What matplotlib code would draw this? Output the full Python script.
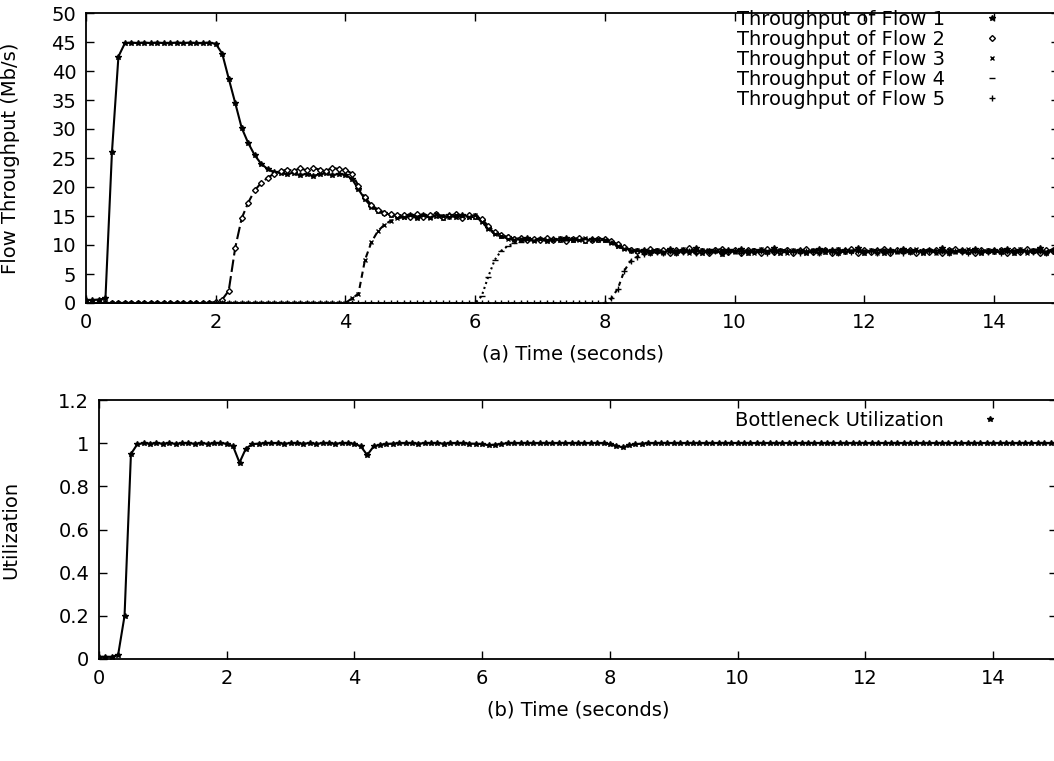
import matplotlib
matplotlib.use("Agg")
import matplotlib.pyplot as plt
from matplotlib.lines import Line2D
from matplotlib.ticker import FuncFormatter

# sample times, one every 0.1 s
time_s = [i / 10 for i in range(151)]

flow1 = [0.5, 0.5, 0.6, 0.8, 26.0, 42.5, 44.8, 44.9, 44.8, 44.9,
         44.8, 44.9, 44.8, 44.8, 44.9, 44.8, 44.9, 44.8, 44.8, 44.9,
         44.7, 43.0, 38.7, 34.5, 30.2, 27.6, 25.5, 24.0, 23.1, 22.6,
         22.4, 22.2, 22.5, 22.0, 22.3, 21.9, 22.2, 22.4, 22.0, 22.3,
         22.1, 21.4, 19.6, 17.9, 16.6, 15.9, 15.5, 15.2, 15.0, 14.8,
         15.1, 14.7, 15.2, 14.9, 15.0, 14.6, 15.1, 14.8, 15.2, 14.9,
         14.8, 14.2, 13.0, 12.1, 11.6, 11.3, 11.1, 10.9, 11.2, 10.8,
         11.0, 10.7, 11.1, 10.9, 11.2, 10.8, 11.0, 10.7, 11.1, 10.9,
         10.8, 10.5, 9.9, 9.4, 9.1, 8.9, 9.2, 8.7, 9.0, 8.8,
         9.3, 8.6, 9.1, 8.9, 9.4, 8.7, 9.0, 9.2, 8.5, 9.1,
         8.9, 9.3, 8.6, 9.0, 9.2, 8.8, 9.4, 8.7, 9.1, 8.9,
         9.2, 8.6, 9.0, 9.3, 8.8, 9.1, 8.7, 9.2, 8.9, 9.4,
         8.7, 9.0, 9.2, 8.6, 9.1, 8.9, 9.3, 8.8, 9.0, 8.7,
         9.2, 8.9, 9.4, 8.6, 9.0, 9.1, 8.8, 9.3, 8.7, 9.0,
         9.1, 8.8, 9.3, 8.6, 9.2, 8.9, 9.0, 9.4, 8.7, 9.1,
         9.0]

flow2 = [0.0] * 20 + [
         0.2, 0.6, 2.1, 9.5, 14.6, 17.3, 19.4, 20.7, 21.6, 22.3,
         22.7, 23.0, 22.8, 23.2, 22.9, 23.3, 23.0, 22.8, 23.3, 23.1,
         23.0, 22.3, 20.2, 18.2, 16.9, 16.1, 15.6, 15.3, 15.1, 15.2,
         14.8, 15.3, 14.9, 15.1, 15.4, 14.8, 15.0, 15.3, 14.7, 15.1,
         15.0, 14.5, 13.3, 12.3, 11.7, 11.4, 11.0, 11.2, 10.8, 11.1,
         10.8, 11.2, 10.9, 11.1, 10.7, 11.0, 11.2, 10.9, 10.8, 11.1,
         11.0, 10.7, 10.1, 9.6, 9.2, 9.0, 8.8, 9.3, 8.9, 9.1,
         8.7, 9.2, 8.9, 9.4, 8.8, 9.0, 8.6, 9.1, 9.3, 8.8,
         9.1, 8.7, 9.2, 8.9, 8.6, 9.3, 8.8, 9.0, 9.2, 8.7,
         8.9, 9.3, 8.8, 9.0, 9.2, 8.7, 9.1, 8.9, 9.3, 8.6,
         9.2, 8.8, 9.0, 9.3, 8.7, 9.1, 8.9, 9.2, 8.6, 9.0,
         8.8, 9.2, 8.7, 9.1, 9.3, 8.9, 9.0, 8.6, 9.2, 8.9,
         8.9, 9.2, 8.7, 9.1, 8.8, 9.3, 8.9, 8.6, 9.2, 8.9,
         9.1]

flow3 = [0.0] * 40 + [
         0.0, 0.8, 1.6, 7.4, 10.5, 12.4, 13.5, 14.2, 14.6, 14.8,
         15.2, 14.9, 15.1, 14.7, 15.3, 15.0, 14.8, 15.2, 15.0, 14.8,
         15.1, 14.0, 12.8, 11.9, 11.5, 11.1, 10.9, 11.1, 11.0, 10.7,
         11.1, 10.9, 10.8, 11.2, 11.0, 10.9, 10.8, 11.2, 10.9, 11.0,
         10.9, 10.4, 9.8, 9.3, 9.0, 9.1, 8.9, 9.0, 9.2, 8.7,
         9.0, 8.9, 9.3, 8.7, 9.1, 9.2, 8.8, 8.9, 9.2, 8.9,
         8.8, 9.1, 9.0, 8.7, 9.3, 8.9, 9.0, 9.2, 8.6, 9.1,
         9.0, 8.8, 9.2, 8.7, 9.1, 9.0, 9.3, 8.8, 9.0, 9.1,
         8.9, 9.2, 8.7, 9.1, 9.0, 8.8, 9.2, 8.9, 9.3, 8.8,
         9.1, 8.7, 9.0, 9.2, 8.8, 9.0, 9.3, 8.9, 8.8, 9.2,
         8.8, 9.1, 9.0, 8.9, 9.3, 8.7, 9.1, 9.0, 8.8, 9.2,
         8.9]

flow4 = [0.0] * 60 + [
         0.0, 1.2, 4.5, 7.4, 9.0, 9.8, 10.3, 10.6, 10.8, 10.9,
         11.0, 10.8, 11.1, 10.9, 10.8, 11.2, 10.9, 11.0, 11.1, 10.8,
         11.0, 10.6, 9.9, 9.4, 9.1, 8.9, 9.0, 8.8, 9.1, 9.0,
         8.9, 9.1, 8.8, 9.0, 9.2, 8.9, 9.3, 8.8, 9.0, 9.1,
         9.2, 8.9, 9.1, 9.3, 8.8, 9.0, 8.9, 9.2, 9.0, 8.8,
         9.1, 9.0, 8.8, 9.2, 8.9, 9.1, 8.8, 9.0, 9.2, 8.9,
         9.0, 8.9, 9.2, 8.8, 9.1, 9.0, 8.8, 9.1, 9.0, 9.2,
         8.9, 9.1, 8.8, 9.0, 8.9, 9.2, 8.8, 9.1, 9.0, 8.8,
         9.1, 8.9, 9.0, 9.2, 8.8, 9.0, 9.1, 8.9, 9.0, 8.9,
         9.0]

flow5 = [0.0] * 80 + [
         0.0, 0.8, 2.5, 5.6, 7.3, 8.0, 8.4, 8.6, 8.8, 8.7,
         8.9, 8.6, 8.8, 9.0, 8.7, 8.9, 8.8, 9.0, 8.7, 8.8,
         8.9, 8.7, 8.8, 9.0, 8.9, 8.7, 8.8, 8.9, 9.0, 8.8,
         8.7, 8.9, 8.8, 8.7, 9.0, 8.8, 8.7, 8.9, 8.8, 9.0,
         8.8, 8.9, 8.7, 9.0, 8.8, 8.9, 8.7, 8.8, 9.0, 8.9,
         8.9, 8.8, 9.0, 8.7, 8.9, 8.8, 8.7, 8.9, 9.0, 8.8,
         8.9, 8.7, 9.0, 8.8, 8.9, 9.0, 8.8, 8.9, 8.7, 9.0,
         8.8]

utilization = [0.01, 0.01, 0.01, 0.02, 0.2, 0.95, 0.995, 1.0, 0.998, 1.0,
               0.998, 1.0, 0.997, 1.0, 0.999, 0.998, 1.0, 0.997, 1.0, 0.999,
               0.998, 0.985, 0.91, 0.975, 0.995, 0.998, 1.0, 0.999, 1.0, 0.998,
               1.0, 0.999, 0.998, 1.0, 0.997, 1.0, 0.999, 0.998, 1.0, 0.999,
               0.998, 0.985, 0.945, 0.985, 0.993, 0.996, 0.998, 1.0, 0.999, 1.0,
               0.998, 1.0, 0.999, 1.0, 0.998, 1.0, 0.999, 1.0, 0.998, 0.997,
               0.996, 0.99, 0.993, 0.997, 0.999, 1.0, 0.999, 1.0, 1.0, 0.999,
               1.0, 0.999, 1.0, 1.0, 0.999, 1.0, 0.999, 1.0, 1.0, 0.999,
               0.995, 0.988, 0.98, 0.99, 0.995, 0.998, 1.0, 0.999, 1.0, 1.0,
               1.0, 0.999, 1.0, 1.0, 1.0, 0.999, 1.0, 1.0, 0.999, 1.0,
               1.0, 1.0, 0.999, 1.0, 1.0, 1.0, 0.999, 1.0, 1.0, 1.0,
               0.999, 1.0, 1.0, 1.0, 0.999, 1.0, 1.0, 0.999, 1.0, 1.0,
               1.0, 0.999, 1.0, 1.0, 1.0, 0.999, 1.0, 1.0, 1.0, 0.999,
               1.0, 1.0, 0.999, 1.0, 1.0, 1.0, 0.999, 1.0, 1.0, 1.0,
               0.999, 1.0, 1.0, 1.0, 0.999, 1.0, 1.0, 1.0, 0.999, 1.0,
               1.0]

flow_labels = ["Throughput of Flow 1", "Throughput of Flow 2", "Throughput of Flow 3",
               "Throughput of Flow 4", "Throughput of Flow 5"]
flow_ticks = [0, 5, 10, 15, 20, 25, 30, 35, 40, 45, 50]
util_ticks = [0, 0.2, 0.4, 0.6, 0.8, 1, 1.2]
time_ticks = [0, 2, 4, 6, 8, 10, 12, 14]

plt.rcParams['font.family'] = ['DejaVu Sans']
plt.rcParams['font.size'] = 14

fig = plt.figure(figsize=(10.54, 7.61), dpi=100)
W, H = 1054, 761
ax1 = fig.add_axes([86 / W, 1 - 303 / H, (1059 - 86) / W, 290 / H])
ax2 = fig.add_axes([99 / W, 1 - 659 / H, (1057 - 99) / W, 259 / H])

# gnuplot-ish monochrome styles
styles = [
    dict(linestyle='-', marker='*', ms=4),
    dict(linestyle=(0, (6, 2)), marker='D', ms=3, mfc='white'),
    dict(linestyle=(0, (3, 2)), marker='x', ms=3),
    dict(linestyle=(0, (1, 1.5)), marker='_', ms=4),
    dict(linestyle=(0, (2, 2)), marker='+', ms=4),
]
flows = [flow1, flow2, flow3, flow4, flow5]

handles = []
for vals, st, lab in zip(flows, styles, flow_labels):
    ax1.plot(time_s, vals, color='black', lw=1.5, mew=1.0, **st)
    hst = {k: v for k, v in st.items() if k != 'linestyle'}
    handles.append(Line2D([], [], color='black', linestyle='none', mew=1.0, **hst))

ax2.plot(time_s, utilization, color='black', lw=1.5, marker='*', ms=4, mew=1.0)

fmt = FuncFormatter(lambda v, pos: '%g' % v)
for ax in (ax1, ax2):
    ax.set_xlim(0, 15)
    ax.set_xticks(time_ticks)
    ax.tick_params(direction='in', top=True, right=True, length=6, width=1.0,
                   labelsize=14, pad=7)
    ax.yaxis.set_major_formatter(fmt)
    for sp in ax.spines.values():
        sp.set_linewidth(1.3)

ax1.set_ylim(0, 50)
ax1.set_yticks(flow_ticks)
ax2.set_ylim(0, 1.2)
ax2.set_yticks(util_ticks)

ax1.set_xlabel('(a) Time (seconds)', fontsize=14, labelpad=9)
ax1.set_ylabel('Flow Throughput (Mb/s)', fontsize=14)
ax1.yaxis.set_label_coords((20 - 86) / 973, 0.5)
ax2.set_xlabel('(b) Time (seconds)', fontsize=14, labelpad=9)
ax2.set_ylabel('Utilization', fontsize=14)
ax2.yaxis.set_label_coords((20 - 99) / 958, 0.5)

ax1.legend(handles=handles, labels=flow_labels, loc='upper left',
           bbox_to_anchor=(737 / W, 1 - 10 / H), bbox_transform=fig.transFigure,
           frameon=False, markerfirst=False, handlelength=1.6, handletextpad=1.6,
           borderpad=0, borderaxespad=0, labelspacing=0.05, fontsize=14)
u_handle = Line2D([], [], color='black', linestyle='none', marker='*', ms=4, mew=1.0)
ax2.legend(handles=[u_handle], labels=['Bottleneck Utilization'], loc='upper left',
           bbox_to_anchor=(735 / W, 1 - 411 / H), bbox_transform=fig.transFigure,
           frameon=False, markerfirst=False, handlelength=1.6, handletextpad=1.6,
           borderpad=0, borderaxespad=0, fontsize=14)

fig.savefig('out.png', dpi=100)
